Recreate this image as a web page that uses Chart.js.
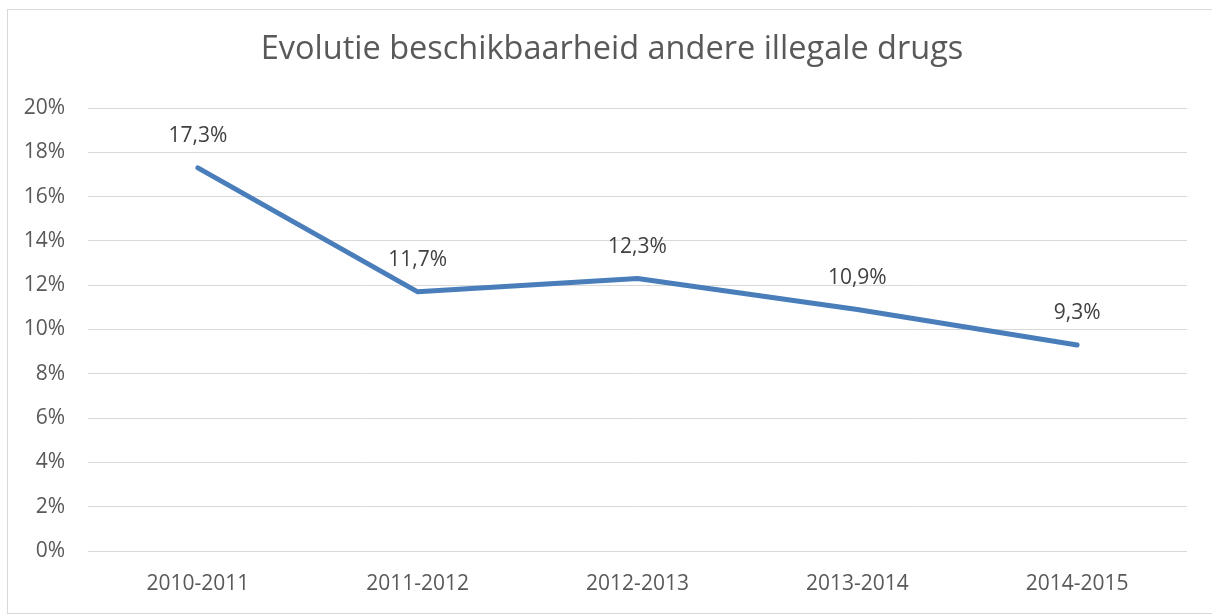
<!DOCTYPE html>
<html>
<head>
<meta charset="utf-8">
<script src="https://cdn.jsdelivr.net/npm/chart.js@4"></script>
<style>
  html, body { margin: 0; padding: 0; background: #fff; overflow: hidden; }
  #wrap { position: absolute; left: 0; top: 0; width: 1212px; height: 614px; }
  #frame { position: absolute; left: 7px; top: 9px; width: 1220px; height: 603px; border: 1px solid #d9d9d9; pointer-events: none; }
</style>
</head>
<body>
<div id="wrap"><canvas id="myChart" width="1212" height="614"></canvas></div>
<div id="frame"></div>
<script>
var chartTitle = 'Evolutie beschikbaarheid andere illegale drugs';
var years = ['2010-2011', '2011-2012', '2012-2013', '2013-2014', '2014-2015'];
var availability = [17.3, 11.7, 12.3, 10.9, 9.3];
var yTicks = [0, 2, 4, 6, 8, 10, 12, 14, 16, 18, 20];

var fontName = '"Open Sans", sans-serif';

// title centred on the whole frame, not on the plot
var frameTitle = {
    id: 'frameTitle',
    afterDraw: function(chart) {
        var ctx = chart.ctx;
        ctx.save();
        ctx.font = '32.5px ' + fontName;
        ctx.fillStyle = '#595959';
        ctx.textAlign = 'center';
        ctx.textBaseline = 'middle';
        ctx.fillText(chartTitle, 612, 50);
        ctx.restore();
    }
};

// draws the value above each point, Excel style with a decimal comma
var pointLabels = {
    id: 'pointLabels',
    afterDatasetsDraw: function(chart) {
        var ctx = chart.ctx;
        var meta = chart.getDatasetMeta(0);
        ctx.save();
        ctx.font = '21px ' + fontName;
        ctx.fillStyle = '#404040';
        ctx.textAlign = 'center';
        ctx.textBaseline = 'middle';
        meta.data.forEach(function(pt, i) {
            var txt = availability[i].toFixed(1).replace('.', ',') + '%';
            ctx.fillText(txt, pt.x, pt.y - 32);
        });
        ctx.restore();
    }
};

var ctx = document.getElementById('myChart').getContext('2d');
var myChart = new Chart(ctx, {
    type: 'line',
    data: {
        labels: years,
        datasets: [{
            data: availability,
            borderColor: '#4a7ebb',
            borderWidth: 5,
            borderCapStyle: 'round',
            borderJoinStyle: 'round',
            pointRadius: 0,
            tension: 0,
            fill: false
        }]
    },
    options: {
        responsive: false,
        animation: false,
        layout: { padding: { left: 0, right: 25, top: 108, bottom: 0 } },
        plugins: {
            legend: { display: false },
            tooltip: { enabled: false },
            title: { display: false }
        },
        scales: {
            x: {
                offset: true,
                grid: { display: false, drawTicks: false },
                border: { display: false },
                ticks: {
                    color: '#595959',
                    font: { family: fontName, size: 21 },
                    padding: 20,
                    maxRotation: 0
                },
                afterFit: function(axis) { axis.height = 63; }
            },
            y: {
                min: 0,
                max: 20,
                afterBuildTicks: function(axis) {
                    axis.ticks = yTicks.map(function(v) { return { value: v }; });
                },
                grid: { color: '#d9d9d9', lineWidth: 1, drawTicks: false },
                border: { display: false },
                ticks: {
                    color: '#595959',
                    font: { family: fontName, size: 21 },
                    padding: 23,
                    callback: function(v) { return v + '%'; }
                },
                afterFit: function(axis) { axis.width = 88; }
            }
        }
    },
    plugins: [pointLabels, frameTitle]
});
</script>
</body>
</html>
